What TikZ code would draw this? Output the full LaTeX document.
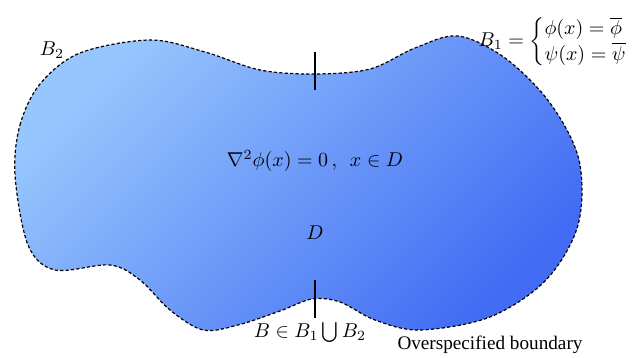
\documentclass[tikz,border=0pt]{standalone}
\usepackage{amsmath}
\usepackage{fontspec}
\setmainfont{Liberation Serif}

\definecolor{domainlight}{RGB}{150, 198, 253}
\definecolor{domaindark}{RGB}{66, 108, 244}

\tikzset{
  boundary/.style={draw=black, line width=0.6pt, dash pattern=on 1.6pt off 1.1pt},
  tickmark/.style={draw=black, line width=1.3pt},
  lbl/.style={inner sep=1pt, font=\fontsize{9.6}{11.5}\selectfont}
}

\begin{document}
\begin{tikzpicture}[x=0.5pt, y=-0.5pt]
    \useasboundingbox (0,0) rectangle (634,358);

    % Domain D with dashed boundary
    \path[boundary, top color=domainlight, bottom color=domaindark, shading angle=45]
      plot[smooth cycle, tension=0.55] coordinates {
        (15,175) (20,125) (40,84) (80,53) (150,40) (205,52) (260,70)
        (315,74) (370,69) (415,48) (458,36) (505,58) (550,103) (579,160)
        (578,225) (546,280) (490,317) (420,330) (375,320) (340,302)
        (312,299) (280,311) (238,325) (203,330) (170,310) (140,280)
        (110,265) (55,270) (28,245)};

    % Split points on the boundary
    \coordinate (topa) at (315,52);
    \coordinate (topb) at (315,90);
    \coordinate (bota) at (315,280);
    \coordinate (botb) at (315,318);
    \draw[tickmark] (topa) -- (topb);
    \draw[tickmark] (bota) -- (botb);

    % Labels
    \node[lbl] (btwo) at (52,50) {$B_2$};
    \node[lbl] (bone) at (563,42)
      {$B_1=\begin{cases}\phi(x)=\overline{\phi}\\[-1pt] \psi(x)=\overline{\psi}\end{cases}$};
    \node[lbl] (laplace) at (315,161) {$\nabla^2\phi(x)=0\,,\ \ x\in D$};
    \node[lbl] (dom) at (315,233) {$D$};
    \node[lbl] (union) at (310,333) {$B\in B_1\bigcup B_2$};
    \node[lbl] (over) at (490,345) {Overspecified boundary};
\end{tikzpicture}
\end{document}
